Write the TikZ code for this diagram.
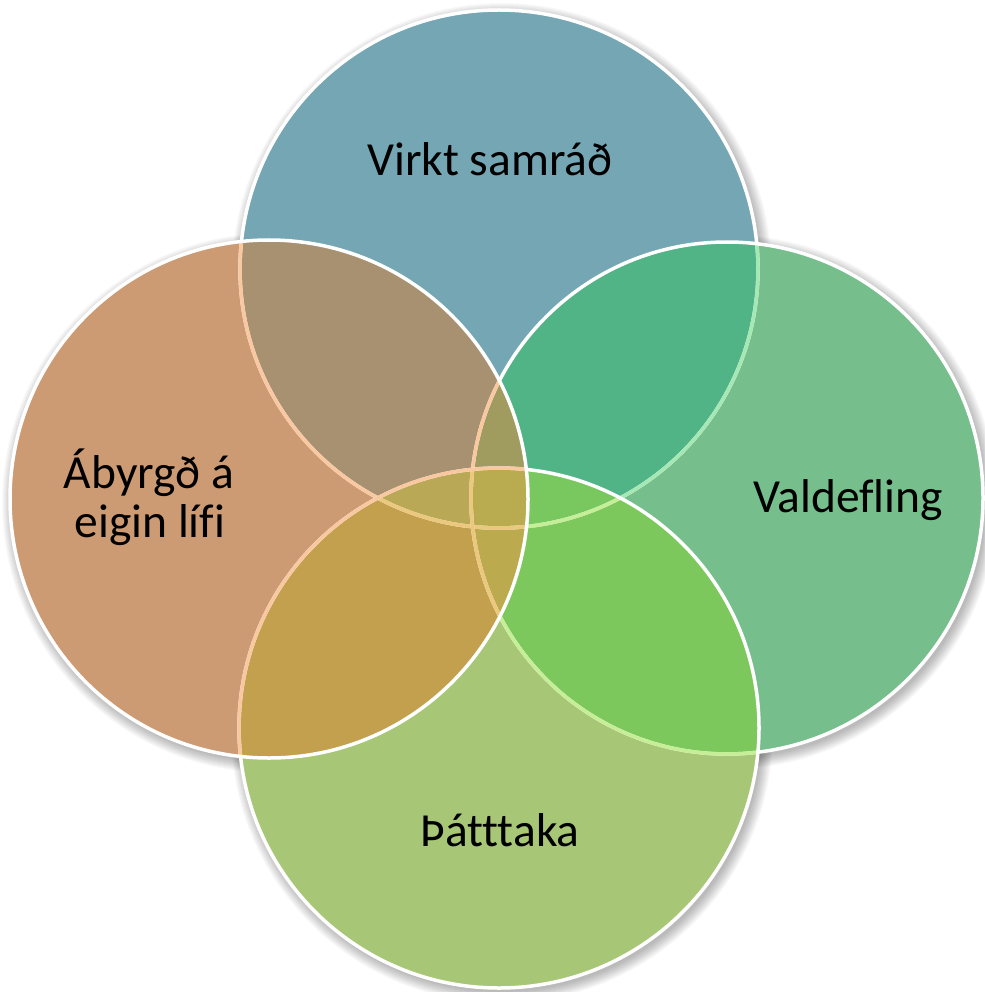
\documentclass[tikz,border=0pt]{standalone}
\usepackage{fontspec}
\setmainfont[Ligatures=CommonOff]{Carlito}
\definecolor{cT}{RGB}{116,166,180}
\definecolor{cR}{RGB}{118,190,140}
\definecolor{cB}{RGB}{167,199,118}
\definecolor{cL}{RGB}{205,155,115}
\definecolor{cTR}{RGB}{80,180,135}
\definecolor{cTL}{RGB}{168,145,112}
\definecolor{cBR}{RGB}{125,200,92}
\definecolor{cBL}{RGB}{195,160,78}
\definecolor{cTLR}{RGB}{160,155,95}
\definecolor{cTLB}{RGB}{185,168,85}
\definecolor{cTRB}{RGB}{120,200,95}
\definecolor{cLRB}{RGB}{188,170,78}
\definecolor{cQ}{RGB}{185,172,80}
\definecolor{tR}{RGB}{165,232,180}
\definecolor{tB}{RGB}{198,238,150}
\definecolor{tL}{RGB}{250,200,160}
\definecolor{tLB}{RGB}{235,200,125}
\def\vennT{(499,269) circle (259)}
\def\vennR{(727,498) circle (256)}
\def\vennB{(499,728) circle (260)}
\def\vennL{(269,499) circle (259)}
\tikzset{
  rim/.style={draw=#1, line width=3.5pt},
  lbl/.style={anchor=base, text=black, font=\fontsize{47.5}{49}\selectfont, inner sep=0pt},
}
\begin{document}
\begin{tikzpicture}[x=1pt,y=-1pt]
\useasboundingbox (0,0) rectangle (984,992);
\fill[white] (0,0) rectangle (984,992);
% soft shadows
\foreach \i in {1,...,12}{
  \fill[black, opacity=0.022] (502,273) circle (258+\i);
  \fill[black, opacity=0.022] (730,502) circle (255+\i);
  \fill[black, opacity=0.022] (502,732) circle (259+\i);
  \fill[black, opacity=0.022] (272,503) circle (258+\i);
}
% single regions
\fill[cT] \vennT;
\fill[cR] \vennR;
\fill[cB] \vennB;
\fill[cL] \vennL;
% pairs
\begin{scope}\clip \vennT; \fill[cTR] \vennR; \fill[cTL] \vennL; \end{scope}
\begin{scope}\clip \vennB; \fill[cBR] \vennR; \fill[cBL] \vennL; \end{scope}
% triples
\begin{scope}\clip \vennT; \clip \vennL; \fill[cTLR] \vennR; \fill[cTLB] \vennB; \end{scope}
\begin{scope}\clip \vennT; \clip \vennR; \fill[cTRB] \vennB; \end{scope}
\begin{scope}\clip \vennL; \clip \vennR; \fill[cLRB] \vennB; \end{scope}
% quadruple
\begin{scope}\clip \vennT; \clip \vennL; \clip \vennR; \fill[cQ] \vennB; \end{scope}
% outlines: top
\draw[rim=white] \vennT;
\begin{scope}\clip \vennR; \draw[rim=tR] \vennT; \end{scope}
\begin{scope}\clip \vennB; \draw[rim=tB] \vennT; \end{scope}
\begin{scope}\clip \vennL; \draw[rim=tL] \vennT; \end{scope}
\begin{scope}\clip \vennL; \clip \vennB; \draw[rim=tLB] \vennT; \end{scope}
% outlines: right
\draw[rim=white] \vennR;
\begin{scope}\clip \vennB; \draw[rim=tB] \vennR; \end{scope}
\begin{scope}\clip \vennL; \draw[rim=tL] \vennR; \end{scope}
\begin{scope}\clip \vennL; \clip \vennB; \draw[rim=tLB] \vennR; \end{scope}
% outlines: bottom
\draw[rim=white] \vennB;
\begin{scope}\clip \vennL; \draw[rim=tL] \vennB; \end{scope}
% outlines: left
\draw[rim=white] \vennL;
% labels
\node[lbl] (top) at (490,176) {Virkt samráð};
\node[lbl] (right) at (848,512) {Valdefling};
\node[lbl] (bottom) at (500,846) {Þátttaka};
\node[lbl] (left1) at (149,488) {Ábyrgð á};
\node[lbl] (left2) at (150,537) {eigin lífi};
\end{tikzpicture}
\end{document}
